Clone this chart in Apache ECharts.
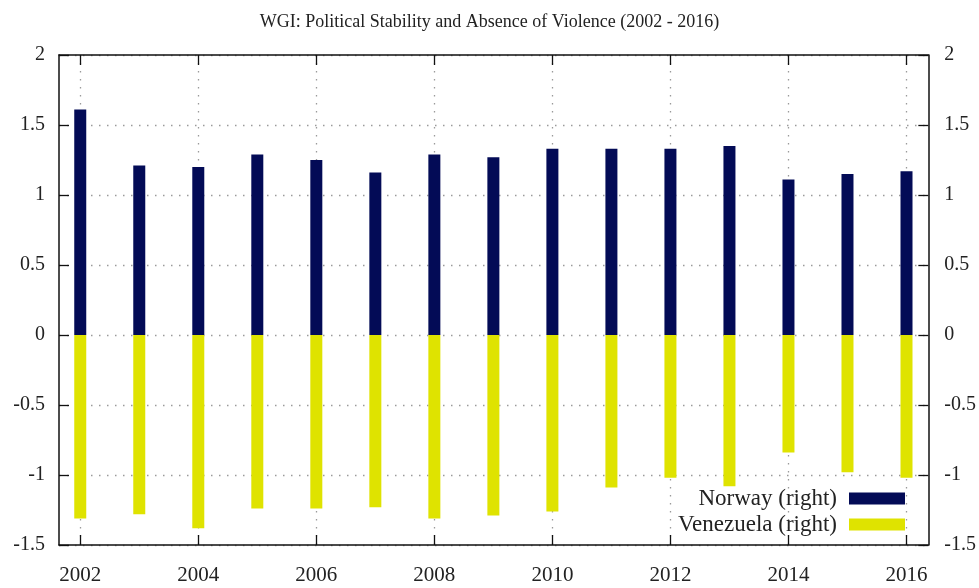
<!DOCTYPE html>
<html>
<head>
<meta charset="utf-8">
<script src="https://cdn.jsdelivr.net/npm/echarts@6/dist/echarts.min.js"></script>
<style>
  html, body { margin: 0; padding: 0; background: #fff; }
  #chart { width: 979px; height: 588px; }
</style>
</head>
<body>
<div id="chart"></div>
<script>
// WGI political stability scores, 2002 - 2016
const years = [2002, 2003, 2004, 2005, 2006, 2007, 2008, 2009, 2010, 2011, 2012, 2013, 2014, 2015, 2016];
const norway = [1.61, 1.21, 1.20, 1.29, 1.25, 1.16, 1.29, 1.27, 1.33, 1.33, 1.33, 1.35, 1.11, 1.15, 1.17];
const venezuela = [-1.31, -1.28, -1.38, -1.24, -1.24, -1.23, -1.31, -1.29, -1.26, -1.09, -1.02, -1.08, -0.84, -0.98, -1.02];
const yearTicks = [2002, 2004, 2006, 2008, 2010, 2012, 2014, 2016];
const seriesNames = ['Norway (right)', 'Venezuela (right)'];

const FONT = '"Liberation Serif", "DejaVu Serif", serif';
const dotted = { color: '#9a9a9a', width: 1.3, type: [1.5, 6.5] };

const xBase = {
  type: 'value',
  min: 2001.64,
  max: 2016.37,
  axisLine: { onZero: false, lineStyle: { color: '#111', width: 1.5 } },
  axisTick: { inside: true, length: 10, customValues: yearTicks, lineStyle: { color: '#111', width: 1.3 } }
};

const yBase = {
  type: 'value',
  min: -1.5,
  max: 2,
  interval: 0.5,
  axisLine: { show: true, onZero: false, lineStyle: { color: '#111', width: 1.5 } },
  axisTick: { show: true, inside: true, length: 10, lineStyle: { color: '#111', width: 1.3 } }
};
const yLabel = { color: '#222', fontFamily: FONT, fontSize: 20 };

const toPairs = vals => years.map((y, i) => [y, vals[i]]);

const chart = echarts.init(document.getElementById('chart'));
chart.setOption({
  animation: false,
  backgroundColor: '#fff',
  title: {
    text: 'WGI: Political Stability and Absence of Violence (2002 - 2016)',
    left: 'center',
    top: 8,
    textStyle: { fontFamily: FONT, fontSize: 18, fontWeight: 'normal', color: '#222' }
  },
  grid: { left: 59, right: 50, top: 55, bottom: 43 },
  legend: {
    orient: 'vertical',
    right: 74,
    bottom: 52,
    padding: 0,
    align: 'right',
    itemWidth: 56,
    itemHeight: 12,
    itemGap: 3,
    data: seriesNames,
    textStyle: { fontFamily: FONT, fontSize: 23, color: '#222', padding: [0, 7, 0, 0] },
    icon: 'rect'
  },
  xAxis: [
    Object.assign({}, xBase, {
      position: 'bottom',
      axisLabel: {
        customValues: yearTicks,
        formatter: v => String(v),
        color: '#222', fontFamily: FONT, fontSize: 21, margin: 20
      },
      splitLine: { show: true, lineStyle: dotted }
    }),
    Object.assign({}, xBase, {
      position: 'top',
      axisLabel: { show: false },
      splitLine: { show: false }
    })
  ],
  yAxis: [
    Object.assign({}, yBase, {
      position: 'left',
      axisLabel: Object.assign({ margin: 14 }, yLabel),
      splitLine: { show: true, lineStyle: dotted }
    }),
    Object.assign({}, yBase, {
      position: 'right',
      axisLabel: Object.assign({ margin: 16 }, yLabel),
      splitLine: { show: false }
    })
  ],
  series: [
    {
      name: seriesNames[0],
      type: 'bar',
      xAxisIndex: 0,
      yAxisIndex: 1,
      barWidth: 12,
      barGap: '-100%',
      itemStyle: { color: '#030b56' },
      data: toPairs(norway)
    },
    {
      name: seriesNames[1],
      type: 'bar',
      xAxisIndex: 0,
      yAxisIndex: 1,
      barWidth: 12,
      barGap: '-100%',
      itemStyle: { color: '#dfe300' },
      data: toPairs(venezuela)
    }
  ]
});
</script>
</body>
</html>
